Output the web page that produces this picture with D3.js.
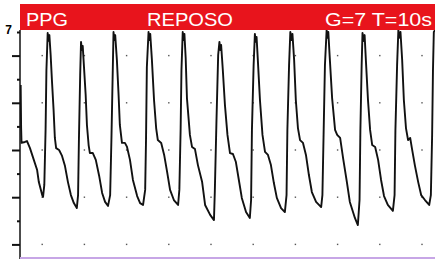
<!DOCTYPE html>
<html>
<head>
<meta charset="utf-8">
<script src="https://cdn.jsdelivr.net/npm/d3@7"></script>
<style>
    body { margin: 0; background: #fff; }
    svg { display: block; }
    .banner-text { fill: #fff; font-family: "Liberation Sans", Arial, sans-serif; font-size: 19px; }
    .axis text { font-family: "Liberation Sans", Arial, sans-serif; font-size: 12px; font-weight: bold; fill: #000; }
    .axis path { display: none; }
    .axis line { stroke: #111; stroke-width: 2; }
    .trace { fill: none; stroke: #111; stroke-width: 1.9; stroke-linejoin: round; }
    .grid-dot { fill: #555; }
</style>
</head>
<body>
<div id="chart"></div>
<script>
// DATA
const bannerLabels = ["PPG", "REPOSO", "G=7 T=10s"];

// seconds
const time = [
    0.49, 0.50, 0.51, 0.59, 0.64, 0.71, 0.78, 0.88, 0.92, 1.00, 1.02,
    1.05, 1.08, 1.10, 1.13, 1.14, 1.17, 1.20, 1.23, 1.27, 1.30, 1.33, 1.40, 1.47, 1.54, 1.61, 1.68, 1.75, 1.82,
    1.85, 1.87, 1.90, 1.92, 1.94, 1.96, 1.99, 2.03, 2.06, 2.10, 2.13, 2.20, 2.27, 2.35, 2.42, 2.49, 2.56,
    2.61, 2.64, 2.67, 2.69, 2.71, 2.73, 2.77, 2.81, 2.84, 2.89, 2.96, 3.01, 3.08, 3.15, 3.25, 3.32, 3.39,
    3.44, 3.46, 3.48, 3.52, 3.54, 3.56, 3.60, 3.65, 3.70, 3.74, 3.82, 3.89, 3.96, 4.03, 4.12, 4.22,
    4.25, 4.28, 4.30, 4.33, 4.35, 4.37, 4.40, 4.43, 4.50, 4.55, 4.62, 4.69, 4.79, 4.86, 4.98, 5.07,
    5.09, 5.13, 5.17, 5.20, 5.22, 5.24, 5.28, 5.33, 5.39, 5.45, 5.52, 5.59, 5.66, 5.73, 5.83, 5.92,
    5.95, 5.97, 6.01, 6.04, 6.06, 6.08, 6.11, 6.16, 6.22, 6.28, 6.35, 6.42, 6.49, 6.56, 6.66, 6.75,
    6.79, 6.81, 6.85, 6.88, 6.91, 6.93, 6.97, 7.01, 7.06, 7.11, 7.18, 7.25, 7.32, 7.39, 7.49, 7.61,
    7.64, 7.67, 7.70, 7.74, 7.76, 7.78, 7.81, 7.87, 7.94, 7.99, 8.06, 8.13, 8.22, 8.29, 8.41, 8.48,
    8.52, 8.54, 8.57, 8.59, 8.62, 8.64, 8.67, 8.72, 8.77, 8.82, 8.89, 8.96, 9.03, 9.10, 9.19, 9.31,
    9.35, 9.37, 9.41, 9.44, 9.46, 9.49, 9.53, 9.57, 9.62, 9.67, 9.72, 9.76, 9.83, 9.91, 9.98, 10.07, 10.17,
    10.21, 10.24, 10.26, 10.28, 10.31
];

const ppg = [
    4.75, 2.97, 2.30, 2.34, 2.38, 2.08, 1.70, 1.15, 0.64, 0.09, 0.01,
    0.52, 2.85, 5.39, 6.96, 6.62, 6.87, 6.03, 4.97, 3.69, 2.51, 2.08, 2.00, 1.75, 1.32, 0.64, 0.09, -0.25, -0.46,
    0.09, 2.42, 5.18, 6.58, 6.24, 6.41, 5.52, 4.33, 3.06, 2.21, 1.87, 1.87, 1.58, 0.90, 0.18, -0.20, -0.37,
    0.09, 2.42, 5.18, 7.00, 6.66, 6.87, 5.81, 4.33, 3.06, 2.30, 2.30, 2.13, 1.58, 0.73, 0.05, -0.25, -0.33,
    0.31, 2.42, 5.52, 7.00, 6.66, 6.92, 5.81, 4.12, 2.93, 2.42, 2.30, 1.79, 1.07, 0.31, -0.12, -0.33,
    0.31, 2.85, 5.39, 7.00, 6.66, 6.92, 5.90, 4.20, 2.64, 2.13, 2.04, 1.36, 0.64, -0.33, -0.75, -0.97,
    0.22, 3.27, 6.03, 6.58, 6.24, 6.45, 5.39, 3.91, 2.64, 1.87, 1.83, 1.49, 0.73, -0.03, -0.63, -0.88,
    -0.12, 2.85, 5.60, 6.92, 6.58, 6.79, 5.81, 4.12, 2.64, 1.92, 1.79, 1.36, 0.60, -0.03, -0.46, -0.63,
    0.09, 2.85, 5.60, 7.00, 6.66, 6.92, 5.81, 4.12, 2.93, 2.42, 2.30, 1.79, 0.94, 0.22, -0.20, -0.42,
    0.09, 2.85, 5.60, 7.08, 6.75, 7.00, 6.03, 4.20, 2.85, 2.64, 2.51, 1.66, 0.64, -0.20, -0.88, -1.18,
    -0.12, 2.85, 5.60, 6.96, 6.62, 6.87, 5.81, 4.12, 2.85, 2.21, 2.13, 1.58, 0.73, 0.05, -0.33, -0.58,
    0.09, 2.85, 5.60, 7.08, 6.75, 7.00, 5.81, 4.12, 2.93, 2.42, 2.51, 2.08, 1.36, 0.64, 0.09, -0.12, -0.33,
    0.09, 2.64, 5.39, 7.00, 7.08
];

const majorTicks = [6, 4, 2, 0, -2];
const minorTicks = [7, 5, 3, 1, -1];
const labelledTicks = [7];
const gridSeconds = [1, 2, 3, 4, 5, 6, 7, 8, 9, 10];

// CHART SETUP
const width = 435;
const height = 259;
const plot = {left: 20, right: 435, top: 30, bottom: 259};

const x = d3.scaleLinear().domain([0, 10]).range([0, 422]);
const y = d3.scaleLinear().domain([0, 7]).range([197.2, 32]);

const svg = d3.select("#chart")
    .append("svg")
    .attr("width", width)
    .attr("height", height);

svg.append("clipPath")
    .attr("id", "plot-clip")
    .append("rect")
    .attr("x", plot.left)
    .attr("y", plot.top - 2)
    .attr("width", plot.right - plot.left)
    .attr("height", plot.bottom - plot.top + 2);

// grid dots
const dots = [];
gridSeconds.forEach(s => majorTicks.forEach(v => dots.push({s, v})));
svg.append("g")
    .selectAll("rect")
    .data(dots)
    .join("rect")
    .classed("grid-dot", true)
    .attr("x", d => x(d.s) - 0.7)
    .attr("y", d => y(d.v) - 0.7)
    .attr("width", 1.4)
    .attr("height", 1.4);

// trace
const points = time.map((t, i) => [t, ppg[i]]);
svg.append("path")
    .datum(points)
    .classed("trace", true)
    .attr("clip-path", "url(#plot-clip)")
    .attr("d", d3.line().x(d => x(d[0])).y(d => y(d[1])));

// left axis
svg.append("line")
    .attr("x1", plot.left)
    .attr("x2", plot.left)
    .attr("y1", plot.top)
    .attr("y2", plot.bottom)
    .attr("stroke", "#111")
    .attr("stroke-width", 1.5);

svg.append("g")
    .classed("axis", true)
    .attr("transform", `translate(${plot.left}, 0)`)
    .call(d3.axisLeft(y).tickValues(majorTicks).tickSize(8).tickFormat(""));

svg.append("g")
    .classed("axis", true)
    .attr("transform", `translate(${plot.left}, 0)`)
    .call(d3.axisLeft(y).tickValues(minorTicks).tickSize(3).tickPadding(5)
        .tickFormat(d => labelledTicks.includes(d) ? d : ""))
    .selectAll("text")
    .attr("dy", "0.1em");

// bottom scan edge
svg.append("line")
    .attr("x1", plot.left)
    .attr("x2", plot.right)
    .attr("y1", 258)
    .attr("y2", 258)
    .attr("stroke", "#c7a6e6")
    .attr("stroke-width", 2);

// banner
svg.append("rect")
    .attr("x", plot.left)
    .attr("y", 4)
    .attr("width", plot.right - plot.left)
    .attr("height", 26)
    .attr("fill", "#e8141c");

const banner = svg.append("g");
banner.append("text").classed("banner-text", true)
    .attr("x", 26).attr("y", 25.5)
    .attr("textLength", 42).attr("lengthAdjust", "spacingAndGlyphs")
    .text(bannerLabels[0]);
banner.append("text").classed("banner-text", true)
    .attr("x", 147).attr("y", 25.5)
    .attr("textLength", 86).attr("lengthAdjust", "spacingAndGlyphs")
    .text(bannerLabels[1]);
banner.append("text").classed("banner-text", true)
    .attr("x", 325).attr("y", 25.5)
    .attr("textLength", 107).attr("lengthAdjust", "spacingAndGlyphs")
    .text(bannerLabels[2]);
</script>
</body>
</html>
